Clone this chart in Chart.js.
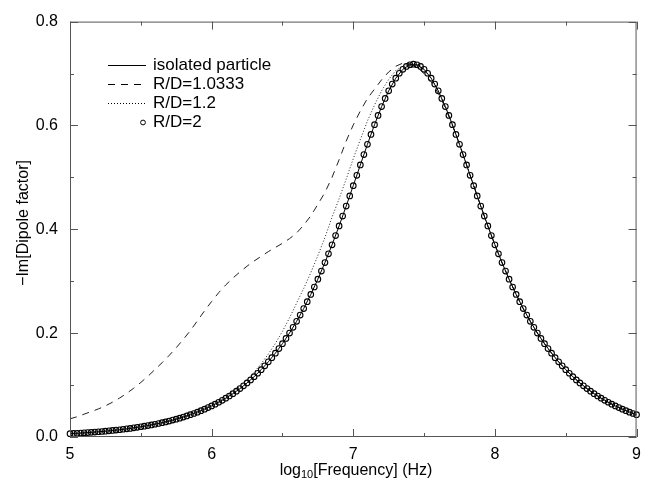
<!DOCTYPE html>
<html>
<head>
<meta charset="utf-8">
<script src="https://cdn.jsdelivr.net/npm/chart.js@4.4.0/dist/chart.umd.min.js"></script>
<style>
html,body{margin:0;padding:0;background:#fff;}
#wrap{width:649px;height:485px;}
</style>
</head>
<body>
<div id="wrap"><canvas id="myChart" width="649" height="485"></canvas></div>
<script>
// log10 frequency grids (start, step)
const lineStart = 5, lineStep = 0.05;    // the three curves
const dotStart = 5, dotStep = 0.025;     // R/D=2 markers

// isolated particle (solid)
const isolated = [
  0.0064,0.0072,0.0080,0.0090,0.0101,0.0112,0.0126,0.0140,0.0157,0.0176,
  0.0197,0.0220,0.0246,0.0275,0.0307,0.0343,0.0384,0.0429,0.0479,0.0536,
  0.0598,0.0669,0.0747,0.0835,0.0932,0.1041,0.1162,0.1297,0.1447,0.1614,
  0.1798,0.2002,0.2227,0.2474,0.2745,0.3040,0.3359,0.3701,0.4065,0.4447,
  0.4841,0.5240,0.5636,0.6014,0.6363,0.6667,0.6910,0.7081,0.7169,0.7169,
  0.7081,0.6910,0.6667,0.6363,0.6014,0.5636,0.5240,0.4841,0.4447,0.4065,
  0.3701,0.3359,0.3040,0.2745,0.2474,0.2227,0.2002,0.1798,0.1614,0.1447,
  0.1297,0.1162,0.1041,0.0932,0.0835,0.0747,0.0669,0.0598,0.0536,0.0479,
  0.0429
];

// R/D=1.0333 (dashed)
const rd10333 = [
  0.035,0.039,0.044,0.049,0.054,0.060,0.067,0.075,0.084,0.094,
  0.105,0.117,0.130,0.143,0.157,0.172,0.188,0.205,0.224,0.243,
  0.261,0.278,0.293,0.306,0.318,0.329,0.339,0.348,0.357,0.365,
  0.373,0.382,0.393,0.408,0.426,0.448,0.471,0.500,0.534,0.570,
  0.601,0.628,0.652,0.670,0.688,0.703,0.714,0.720,0.719,0.712,
  0.700,0.684,0.662,0.634,0.600,0.5636,0.5240,0.4841,0.4447,0.4065,
  0.3701,0.3359,0.3040,0.2745,0.2474,0.2227,0.2002,0.1798,0.1614,0.1447,
  0.1297,0.1162,0.1041,0.0932,0.0835,0.0747,0.0669,0.0598,0.0536,0.0479,
  0.0429
];

// R/D=1.2 (dotted)
const rd12 = [
  0.0065,0.0073,0.0081,0.0091,0.0102,0.0113,0.0127,0.0142,0.0159,0.0178,
  0.0201,0.0225,0.0252,0.0281,0.0314,0.0351,0.0393,0.0440,0.0493,0.0552,
  0.0619,0.0693,0.0776,0.0869,0.0974,0.1102,0.1247,0.1413,0.1597,0.1802,
  0.2036,0.2295,0.2580,0.2860,0.3165,0.3494,0.3844,0.4231,0.4588,0.4969,
  0.5359,0.5732,0.6086,0.6395,0.6667,0.6887,0.7059,0.7143,0.7180,0.7156,
  0.7068,0.6910,0.6667,0.6363,0.6014,0.5636,0.5240,0.4841,0.4447,0.4065,
  0.3701,0.3359,0.3040,0.2745,0.2474,0.2227,0.2002,0.1798,0.1614,0.1447,
  0.1297,0.1162,0.1041,0.0932,0.0835,0.0747,0.0669,0.0598,0.0536,0.0479,
  0.0429
];

// R/D=2 (open circles)
const rd2 = [
  0.0064,0.0068,0.0072,0.0076,0.0080,0.0085,0.0090,0.0095,0.0101,0.0106,
  0.0112,0.0119,0.0126,0.0133,0.0140,0.0149,0.0157,0.0166,0.0176,0.0186,
  0.0197,0.0208,0.0220,0.0232,0.0246,0.0260,0.0275,0.0291,0.0307,0.0325,
  0.0343,0.0363,0.0384,0.0406,0.0429,0.0453,0.0479,0.0507,0.0536,0.0566,
  0.0598,0.0633,0.0669,0.0707,0.0747,0.0790,0.0835,0.0882,0.0932,0.0985,
  0.1041,0.1100,0.1162,0.1228,0.1297,0.1370,0.1447,0.1528,0.1614,0.1703,
  0.1798,0.1898,0.2002,0.2112,0.2227,0.2348,0.2474,0.2607,0.2745,0.2889,
  0.3040,0.3196,0.3359,0.3527,0.3701,0.3880,0.4065,0.4254,0.4447,0.4643,
  0.4841,0.5040,0.5240,0.5439,0.5636,0.5828,0.6014,0.6193,0.6363,0.6521,
  0.6667,0.6797,0.6910,0.7005,0.7081,0.7136,0.7169,0.7180,0.7169,0.7136,
  0.7081,0.7005,0.6910,0.6797,0.6667,0.6521,0.6363,0.6193,0.6014,0.5828,
  0.5636,0.5439,0.5240,0.5040,0.4841,0.4643,0.4447,0.4254,0.4065,0.3880,
  0.3701,0.3527,0.3359,0.3196,0.3040,0.2889,0.2745,0.2607,0.2474,0.2348,
  0.2227,0.2112,0.2002,0.1898,0.1798,0.1703,0.1614,0.1528,0.1447,0.1370,
  0.1297,0.1228,0.1162,0.1100,0.1041,0.0985,0.0932,0.0882,0.0835,0.0790,
  0.0747,0.0707,0.0669,0.0633,0.0598,0.0566,0.0536,0.0507,0.0479,0.0453,
  0.0429
];

const xTicks = [5, 6, 7, 8, 9];
const xMinor = [5.5, 6.5, 7.5, 8.5];
const yTicks = [0, 0.2, 0.4, 0.6, 0.8];
const yMinor = [0.1, 0.3, 0.5, 0.7];
const legendNames = ['isolated particle', 'R/D=1.0333', 'R/D=1.2', 'R/D=2'];

function toPoints(vals, start, step) {
  return vals.map((v, i) => ({x: start + i * step, y: v}));
}

const FONT = '"Liberation Sans", Arial, Helvetica, sans-serif';

// frame, inward ticks, legend and axis titles
const decorPlugin = {
  id: 'decor',
  afterDatasetsDraw(chart) {
    const {ctx, chartArea: a, scales: {x, y}} = chart;
    ctx.save();
    ctx.strokeStyle = '#555';
    ctx.lineWidth = 1;
    ctx.strokeRect(a.left + 0.5, a.top + 0.5, a.right - a.left - 1, a.bottom - a.top - 1);

    ctx.beginPath();
    xTicks.forEach(v => {
      const px = Math.round(x.getPixelForValue(v)) + 0.5;
      ctx.moveTo(px, a.bottom); ctx.lineTo(px, a.bottom - 8);
      ctx.moveTo(px, a.top); ctx.lineTo(px, a.top + 8);
    });
    xMinor.forEach(v => {
      const px = Math.round(x.getPixelForValue(v)) + 0.5;
      ctx.moveTo(px, a.bottom); ctx.lineTo(px, a.bottom - 4);
      ctx.moveTo(px, a.top); ctx.lineTo(px, a.top + 4);
    });
    yTicks.forEach(v => {
      const py = Math.round(y.getPixelForValue(v)) + 0.5;
      ctx.moveTo(a.left, py); ctx.lineTo(a.left + 8, py);
      ctx.moveTo(a.right, py); ctx.lineTo(a.right - 8, py);
    });
    yMinor.forEach(v => {
      const py = Math.round(y.getPixelForValue(v)) + 0.5;
      ctx.moveTo(a.left, py); ctx.lineTo(a.left + 4, py);
      ctx.moveTo(a.right, py); ctx.lineTo(a.right - 4, py);
    });
    ctx.stroke();

    // legend
    const x0 = 108, x1 = 146, tx = 153, ry = 65, gap = 19;
    ctx.font = '17px ' + FONT;
    ctx.fillStyle = '#000';
    ctx.textBaseline = 'middle';
    chart.data.datasets.forEach((ds, i) => {
      const yy = ry + i * gap + 0.5;
      ctx.strokeStyle = '#000';
      ctx.lineWidth = 1;
      if (ds.showLine === false) {
        ctx.setLineDash([]);
        ctx.beginPath();
        ctx.arc(x1 - 3, yy, 2.4, 0, Math.PI * 2);
        ctx.stroke();
      } else {
        ctx.setLineDash(ds.borderDash || []);
        ctx.beginPath();
        ctx.moveTo(x0, yy); ctx.lineTo(x1, yy);
        ctx.stroke();
      }
      ctx.setLineDash([]);
      ctx.fillText(legendNames[i], tx, yy);
    });

    // axis titles
    ctx.textBaseline = 'alphabetic';
    ctx.save();
    ctx.translate(28, 223);
    ctx.rotate(-Math.PI / 2);
    ctx.textAlign = 'center';
    ctx.font = '16px ' + FONT;
    ctx.fillText('\u2212Im[Dipole factor]', 0, 0);
    ctx.restore();

    const p1 = 'log', p2 = '10', p3 = '[Frequency] (Hz)';
    ctx.font = '16px ' + FONT;
    const w1 = ctx.measureText(p1).width, w3 = ctx.measureText(p3).width;
    ctx.font = '11px ' + FONT;
    const w2 = ctx.measureText(p2).width;
    let sx = 356 - (w1 + w2 + w3) / 2;
    const by = 475;
    ctx.textAlign = 'left';
    ctx.font = '16px ' + FONT;
    ctx.fillText(p1, sx, by); sx += w1;
    ctx.font = '11px ' + FONT;
    ctx.fillText(p2, sx, by + 3); sx += w2;
    ctx.font = '16px ' + FONT;
    ctx.fillText(p3, sx, by);
    ctx.restore();
  }
};

new Chart(document.getElementById('myChart').getContext('2d'), {
  type: 'line',
  data: {
    datasets: [
      {label: legendNames[0], data: toPoints(isolated, lineStart, lineStep),
       borderColor: '#000', borderWidth: 1, pointRadius: 0, fill: false},
      {label: legendNames[1], data: toPoints(rd10333, lineStart, lineStep),
       borderColor: '#222', borderWidth: 1, borderDash: [7, 6], pointRadius: 0, fill: false},
      {label: legendNames[2], data: toPoints(rd12, lineStart, lineStep),
       borderColor: '#222', borderWidth: 1, borderDash: [1, 2], pointRadius: 0, fill: false},
      {label: legendNames[3], data: toPoints(rd2, dotStart, dotStep), showLine: false,
       pointStyle: 'circle', pointRadius: 2.8, pointBorderWidth: 1.1,
       pointBorderColor: '#000', pointBackgroundColor: 'rgba(0,0,0,0)', clip: 4}
    ]
  },
  options: {
    responsive: false,
    animation: false,
    devicePixelRatio: 1,
    layout: {padding: {left: 0, right: 3, top: 14, bottom: 0}},
    plugins: {legend: {display: false}, tooltip: {enabled: false}},
    scales: {
      x: {
        type: 'linear', min: 5, max: 9,
        grid: {display: false, drawTicks: false}, border: {display: false},
        afterBuildTicks: s => { s.ticks = xTicks.map(v => ({value: v})); },
        afterFit: s => { s.height = 48; },
        ticks: {padding: 8, color: '#000', font: {family: FONT, size: 16}, maxRotation: 0,
                callback: v => String(v)}
      },
      y: {
        type: 'linear', min: 0, max: 0.8,
        grid: {display: false, drawTicks: false}, border: {display: false},
        afterBuildTicks: s => { s.ticks = yTicks.map(v => ({value: v})); },
        afterFit: s => { s.width = 70; },
        ticks: {padding: 12, color: '#000', font: {family: FONT, size: 16},
                callback: v => v.toFixed(1)}
      }
    }
  },
  plugins: [decorPlugin]
});
</script>
</body>
</html>
